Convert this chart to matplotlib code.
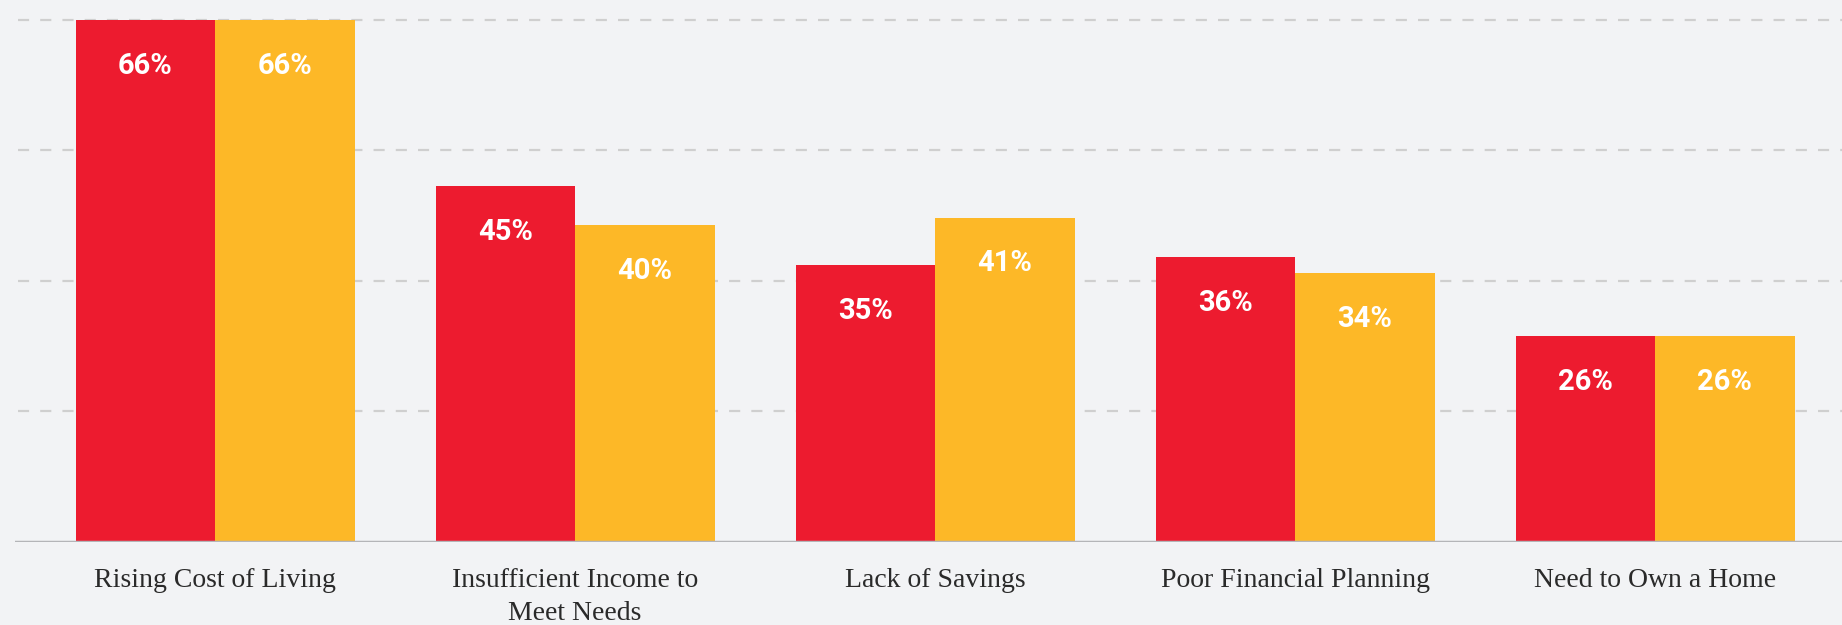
import numpy as np
import matplotlib
matplotlib.use("Agg")
import matplotlib.pyplot as plt

categories = ["Rising Cost of Living", "Insufficient Income to\nMeet Needs",
              "Lack of Savings", "Poor Financial Planning", "Need to Own a Home"]
series_a = [66, 45, 35, 36, 26]
series_b = [66, 40, 41, 34, 26]

red = "#ED1B2F"
yellow = "#FDB827"
bg = "#F2F3F5"

fig = plt.figure(figsize=(18.42, 6.25), dpi=100, facecolor=bg)
ax = fig.add_axes([15 / 1842, (625 - 541.5) / 625, (1842 - 15) / 1842, 541.5 / 625])
ax.set_facecolor(bg)

x = np.arange(len(categories))
w = 0.3875
bars_a = ax.bar(x - w / 2, series_a, w, color=red, zorder=3)
bars_b = ax.bar(x + w / 2, series_b, w, color=yellow, zorder=3)

ax.set_xlim(-0.556, 4.519)
ymax = max(series_a + series_b)
ax.set_ylim(0, ymax * 541.5 / 521.5)

# dashed grid
for g in np.linspace(0, ymax, 5)[1:]:
    ax.axhline(g, xmin=3 / 1827, xmax=1, color="#CFCFCF", lw=1.6,
               ls=(0, (5, 5)), zorder=1)
ax.axhline(0, color="#B4B5B8", lw=2.5, zorder=4)

for bars in (bars_a, bars_b):
    for b in bars:
        ax.annotate(f"{b.get_height():.0f}%", (b.get_x() + b.get_width() / 2, b.get_height()),
                    xytext=(0, -33), textcoords="offset points", ha="center", va="center",
                    color="white", fontsize=21, fontweight="bold", family="Roboto", zorder=5)

for xi, c in zip(x, categories):
    ax.annotate(c, (xi, 0), xycoords=("data", "axes fraction"), xytext=(0, -19),
                textcoords="offset points", ha="center", va="top", fontsize=20,
                family="Liberation Serif", color="#2A2A2A", linespacing=1.45,
                annotation_clip=False)

for s in ax.spines.values():
    s.set_visible(False)
ax.set_xticks([])
ax.set_yticks([])

fig.savefig("out.png", dpi=100, facecolor=bg)
